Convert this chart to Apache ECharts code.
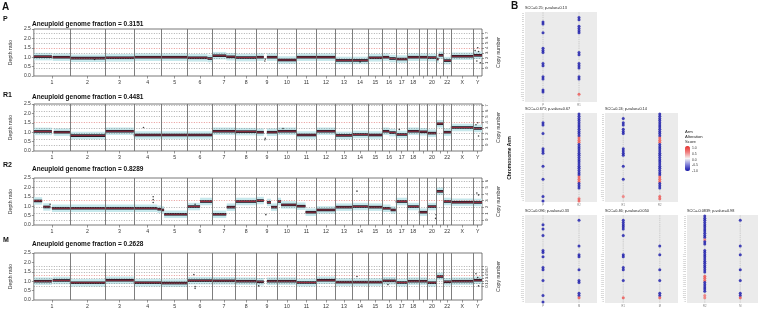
<!DOCTYPE html>
<html><head><meta charset="utf-8">
<script src="https://cdn.jsdelivr.net/npm/echarts@6/dist/echarts.min.js"></script>
<style>html,body{margin:0;padding:0;background:#fff}#c{width:760px;height:310px}</style>
</head><body><div id="c"></div>
<script>
// ---------- Panel A data ----------
const chromNames = ['1','2','3','4','5','6','7','8','9','10','11','12','13','14','15','16','17','18','19','20','21','22','X','Y'];
const chromLengths = [249.25,243.2,198.0,191.15,180.9,171.1,159.1,146.4,141.2,135.5,135.0,133.85,115.2,107.35,102.5,90.35,81.2,78.1,59.1,63.0,48.1,51.3,155.3,59.4];
const labelledChroms = ['1','2','3','4','5','6','7','8','9','10','11','12','13','14','15','16','17','18','20','22','X','Y'];
const sampleNames = ['P','R1','R2','M'];
const fractionTexts = ['0.3151','0.4481','0.8289','0.2628'];

// segments: [chromosome, start fraction, end fraction, depth ratio]
const segmentsP = [
 ['1',0,0.5,1.03],['1',0.52,1,1.0],['2',0,1,0.95],['3',0,1,0.97],['4',0,1,1.0],['5',0,1,1.0],
 ['6',0,0.8,0.97],['6',0.8,1,0.93],['7',0,0.6,1.08],['7',0.6,1,1.02],['8',0,1,0.98],
 ['9',0,0.35,1.0],['9',0.5,1,1.0],['10',0,1,0.85],['11',0,1,1.0],['12',0,1,1.0],['13',0,1,0.83],
 ['14',0,1,0.83],['15',0,1,0.97],['16',0,0.5,1.0],['16',0.5,1,0.93],['17',0,1,0.9],['18',0,1,1.0],
 ['19',0,1,1.0],['20',0,1,0.98],['21',0,0.3,0.9],['21',0.3,1,1.1],['22',0,1,0.82],['X',0,1,1.05],['Y',0,1,1.1]
];
const segmentsR1 = [
 ['1',0,0.5,1.04],['1',0.55,1,1.0],['2',0,1,0.82],['3',0,1,1.05],['4',0,1,0.85],['5',0,1,0.85],
 ['6',0,1,0.85],['7',0,1,1.05],['8',0,1,1.03],['9',0,0.35,1.0],['9',0.5,1,1.0],['10',0,1,1.05],
 ['11',0,1,0.85],['12',0,1,1.05],['13',0,1,0.83],['14',0,1,0.88],['15',0,1,0.85],['16',0,0.5,1.05],
 ['16',0.5,1,0.98],['17',0,1,0.88],['18',0,1,1.05],['19',0,1,1.02],['20',0,1,0.95],['21',0,1,1.45],
 ['22',0,1,1.0],['X',0,1,1.25],['Y',0,1,1.2]
];
const segmentsR2 = [
 ['1',0,0.23,1.28],['1',0.26,0.46,0.96],['1',0.5,1,0.89],['2',0,1,0.89],['3',0,1,0.89],['4',0,0.85,0.89],
 ['4',0.85,1,0.84],['5',0,0.1,0.8],['5',0.1,1,0.57],['6',0,0.5,0.98],['6',0.5,1,1.25],['7',0,0.6,0.57],
 ['7',0.62,1,0.95],['8',0,1,1.25],['9',0,0.35,1.3],['9',0.5,0.7,1.2],['9',0.7,1,0.95],['10',0,0.2,1.25],
 ['10',0.2,1,1.07],['11',0,0.45,1.0],['11',0.45,1,0.68],['12',0,1,0.8],['13',0,1,0.95],['14',0,1,0.98],
 ['15',0,1,0.95],['16',0,0.6,0.89],['16',0.6,1,0.8],['17',0,1,1.25],['18',0,1,0.98],['19',0,1,0.68],
 ['20',0,1,0.98],['21',0,1,1.79],['22',0,1,1.25],['X',0,1,1.21],['Y',0,1,1.2]
];
const segmentsM = [
 ['1',0,0.5,1.0],['1',0.52,1,1.04],['2',0,1,0.92],['3',0,1,1.05],['4',0,1,0.92],['5',0,1,0.9],
 ['6',0,1,1.03],['7',0,1,1.02],['8',0,1,1.0],['9',0,0.35,0.97],['9',0.5,1,1.0],['10',0,1,1.0],
 ['11',0,1,0.93],['12',0,1,1.05],['13',0,1,0.95],['14',0,1,0.95],['15',0,1,0.95],['16',0,1,1.02],
 ['17',0,1,0.93],['18',0,1,1.0],['19',0,1,1.0],['20',0,1,0.92],['21',0,1,1.25],['22',0,1,0.97],
 ['X',0,1,1.0],['Y',0,1,1.05]
];
// outlying bins: [chromosome, fraction, depth ratio]
const outliersP = [['9',0.4,0.8],['9',0.42,0.9],['2',0.7,0.88],['14',0.5,0.75],['Y',0.2,1.35],['Y',0.4,0.8],['Y',0.6,1.3],['Y',0.8,0.7],['Y',0.5,1.5]];
const outliersR1 = [['4',0.35,1.25],['9',0.4,0.6],['9',0.42,0.68],['10',0.3,1.2],['17',0.3,1.15],['Y',0.3,1.4],['Y',0.6,0.8],['Y',0.5,1.5]];
const outliersR2 = [['4',0.7,1.2],['4',0.7,1.35],['4',0.7,1.5],['1',0.45,1.1],['9',0.45,0.55],['14',0.3,1.8],['20',0.9,0.35],['20',0.95,0.55],['Y',0.4,1.7],['Y',0.6,1.6],['6',0.3,1.1]];
const outliersM = [['6',0.3,0.62],['6',0.3,0.72],['6',0.25,1.35],['14',0.3,1.25],['16',0.4,0.82],['9',0.1,0.75],['Y',0.3,1.4],['Y',0.6,0.75],['Y',0.5,1.2]];
// copy-number levels (depth ratio of CN 0,1,2,...)
const cnLevelsP = [0.43,0.70,0.96,1.23,1.50,1.76,2.03,2.29];
const cnLevelsR1 = [0.33,0.63,0.93,1.23,1.53,1.83,2.13,2.43];
const cnLevelsR2 = [0.27,0.61,0.96,1.30,1.65,2.00,2.34];
const cnLevelsM = [0.72,0.87,1.02,1.17,1.32,1.47,1.62,1.77];
const redCnIndex = [4,4,3,4];

// ---------- Panel B data ----------
const armNames = ['1p','1q','2p','2q','3p','3q','4p','4q','5p','5q','6p','6q','7p','7q','8p','8q','9p','9q','10p','10q','11p','11q','12p','12q','13q','14q','15q','16p','16q','17p','17q','18p','18q','19p','19q','20p','20q','21q','22q','Xp','Xq'];
const bTitles = ['SCC=0.25; p-value=0.13','SCC=-0.671; p-value=0.67','SCC=0.24; p-value=0.14','SCC=0.096; p-value=0.33','SCC=0.46; p-value=0.050','SCC=-0.0839; p-value=0.98'];
const bColumns = [['P','R1'],['P','R2'],['R1','R2'],['P','M'],['R1','M'],['R2','M']];
// altered arms per column: [arm, score]
const b1Left = [['3p',-1],['3q',-1],['5q',-1],['9p',-1],['9q',-1],['10p',-1],['12q',-1],['13q',-1],['17p',-1],['17q',-1],['20p',-1],['20q',-1]];
const b1Right = [['2p',-1],['2q',-1],['4p',-1],['4q',-1],['5p',-1],['5q',-1],['10p',-1],['10q',-1],['12q',-1],['13q',-1],['14q',-1],['17p',-1],['17q',-1],['21q',0.8]];
const b2Left = [['3p',-1],['3q',-1],['5q',-1],['9p',-1],['9q',-1],['10p',-1],['13q',-1],['17q',-1],['22q',-1],['Xq',-1]];
const b2Right = [['1p',-1],['1q',-1],['2p',-1],['2q',-1],['3p',-1],['3q',-1],['4p',-1],['4q',-1],['5p',-1],['5q',-1],['6p',-1],['6q',0.8],['7p',0.8],['7q',0.8],['8p',-1],['8q',-1],['9p',-1],['9q',-1],['10p',-1],['10q',-1],['11p',-1],['11q',-1],['12p',-1],['12q',-1],['13q',-1],['14q',-1],['15q',-1],['16p',-1],['16q',-1],['17p',0.8],['17q',0.8],['18p',0.8],['18q',-1],['19p',-1],['19q',-1],['Xp',0.8],['Xq',0.8]];
const b3Left = [['2p',-1],['3p',-1],['3q',-1],['4q',-1],['5p',-1],['5q',-1],['9p',-1],['9q',-1],['10p',-1],['10q',-1],['13q',-1],['17q',-1],['22q',0.6]];
const b3Right = [['1p',-1],['1q',-1],['2p',-1],['2q',-1],['3p',-1],['3q',-1],['4p',-1],['4q',-1],['5p',-1],['5q',-1],['6p',-1],['6q',0.8],['7p',0.8],['7q',0.8],['8p',-1],['8q',-1],['9p',-1],['9q',-1],['10p',-1],['10q',-1],['11p',-1],['11q',-1],['12p',-1],['12q',-1],['13q',-1],['14q',-1],['15q',-1],['16p',-1],['16q',-1],['17p',0.8],['17q',0.8],['18p',0.8],['18q',-1],['19p',-1],['19q',-1],['22q',0.8],['Xp',0.8]];
const b4Left = [['3p',-1],['4p',-1],['5q',-1],['9p',-1],['9q',-1],['10q',-1],['13q',-1],['14q',-1],['17q',-1],['21q',-1],['Xq',-1]];
const b4Right = [['2p',-1],['8p',-1],['10p',-1],['10q',-1],['14q',-1],['17q',-1],['18p',-1],['20q',-1],['21q',-1],['22q',0.8]];
const b5Left = [['2p',-1],['2q',-1],['3p',-1],['3q',-1],['4p',-1],['5q',-1],['10p',-1],['10q',-1],['13q',-1],['14q',-1],['17q',-1],['22q',0.8]];
const b5Right = [['8p',-1],['10p',-1],['14q',-1],['17q',-1],['20q',-1],['21q',-1],['22q',0.8]];
const b6Left = [['1p',-1],['1q',-1],['2p',-1],['2q',-1],['3p',-1],['3q',-1],['4p',-1],['4q',-1],['5p',-1],['5q',-1],['6p',-1],['6q',0.6],['7p',-1],['7q',-1],['9p',-1],['9q',-1],['10p',-1],['10q',-1],['11p',-1],['11q',-1],['12p',-1],['12q',-1],['13q',-1],['14q',-1],['15q',-1],['16q',0.8],['17p',0.8],['17q',0.8],['18p',-1],['18q',-1],['19p',-1],['19q',-1],['20p',-1],['21q',0.6],['22q',0.6]];
const b6Right = [['2p',-1],['8p',-1],['10p',-1],['14q',-1],['17q',-1],['20q',-1],['21q',-1],['22q',0.8]];
const legendTicks = ['1.0','0.5','0.0','-0.5','-1.0'];

// ---------- build ----------
const chromStart = {};
let acc = 0;
chromNames.forEach((c, i) => { chromStart[c] = acc; acc += chromLengths[i]; });
const genomeLen = acc;
const chromLen = {}; chromNames.forEach((c, i) => chromLen[c] = chromLengths[i]);
const boundaries = chromNames.slice(1).map(c => chromStart[c]);
const centers = chromNames.map(c => chromStart[c] + chromLen[c] / 2);
const labelCenters = labelledChroms.map(c => chromStart[c] + chromLen[c] / 2);
function nameAt(v) { let best = 0, d = 1e9; centers.forEach((c, i) => { if (Math.abs(c - v) < d) { d = Math.abs(c - v); best = i; } }); return chromNames[best]; }
const gpos = (c, f) => chromStart[c] + f * chromLen[c];

const allSegments = [segmentsP, segmentsR1, segmentsR2, segmentsM];
const allOutliers = [outliersP, outliersR1, outliersR2, outliersM];
const allCn = [cnLevelsP, cnLevelsR1, cnLevelsR2, cnLevelsM];
const aTops = [29, 104, 178, 253];
const aH = 47;
const FONT = 'Liberation Sans';

const grid = [], xAxis = [], yAxis = [], series = [], graphic = [];

sampleNames.forEach((s, i) => {
  grid.push({ left: 30, top: aTops[i], width: 452, height: aH, show: true, borderColor: '#555', borderWidth: 0.8, backgroundColor: 'transparent' });
  xAxis.push({ type: 'value', gridIndex: i, min: 0, max: genomeLen, splitLine: { show: false },
    axisLine: { show: false },
    axisTick: { show: true, customValues: centers, length: 2.5, lineStyle: { color: '#555', width: 0.6 } },
    axisLabel: { customValues: labelCenters, formatter: v => nameAt(v), fontSize: 5.2, color: '#333', margin: 4, fontFamily: FONT } });
  const cn = allCn[i];
  yAxis.push({ type: 'value', gridIndex: i, min: 0, max: 2.5, interval: 0.5, position: 'left',
    name: 'Depth ratio', nameLocation: 'middle', nameGap: 14, nameTextStyle: { fontSize: 5.2, color: '#333', fontFamily: FONT },
    axisLine: { show: false }, splitLine: { show: false },
    axisTick: { show: true, length: 2, lineStyle: { color: '#555', width: 0.6 } },
    axisLabel: { fontSize: 5, color: '#333', margin: 3, formatter: v => v.toFixed(1), fontFamily: FONT } });
  yAxis.push({ type: 'value', gridIndex: i, min: 0, max: 2.5, position: 'right',
    name: 'Copy number', nameLocation: 'middle', nameGap: 13, nameRotate: 90, nameTextStyle: { fontSize: 5.2, color: '#333', fontFamily: FONT },
    axisLine: { show: false }, splitLine: { show: false },
    axisTick: { show: true, customValues: cn, length: 2, lineStyle: { color: '#555', width: 0.6 } },
    axisLabel: { customValues: cn, rotate: 90, fontSize: 4.2, color: '#333', margin: 2.5, fontFamily: FONT,
      formatter: v => { let b = 0, d = 1e9; cn.forEach((c, k) => { if (Math.abs(c - v) < d) { d = Math.abs(c - v); b = k; } }); return String(b); } } });
  const segData = allSegments[i].map(g => [gpos(g[0], g[1]), gpos(g[0], g[2]), g[3]]);
  series.push({ type: 'custom', xAxisIndex: i, yAxisIndex: 2 * i, z: 1, silent: true, data: segData,
    renderItem: (p, api) => {
      const a = api.coord([api.value(0), api.value(2) + 0.2]);
      const b = api.coord([api.value(1), api.value(2) - 0.2]);
      return { type: 'rect', shape: { x: a[0], y: a[1], width: b[0] - a[0], height: b[1] - a[1] }, style: { fill: '#c6e8ec' } };
    } });
  const red = redCnIndex[i];
  series.push({ type: 'scatter', xAxisIndex: i, yAxisIndex: 2 * i, z: 2, data: [], silent: true,
    markLine: { silent: true, symbol: 'none', animation: false, label: { show: false },
      data: cn.map((v, k) => ({ yAxis: v, lineStyle: { color: k === red ? '#d9534f' : '#777', width: 0.6, type: [1, 1.5] } }))
        .concat(boundaries.map(b => ({ xAxis: b, lineStyle: { color: '#6f6f6f', width: 0.9, type: 'solid' } }))) } });
  series.push({ type: 'custom', xAxisIndex: i, yAxisIndex: 2 * i, z: 3, silent: true, data: segData,
    renderItem: (p, api) => {
      const a = api.coord([api.value(0), api.value(2)]);
      const b = api.coord([api.value(1), api.value(2)]);
      return { type: 'group', children: [
        { type: 'line', shape: { x1: a[0], y1: a[1], x2: b[0], y2: b[1] }, style: { stroke: '#1e1a26', lineWidth: 2.6 } },
        { type: 'line', shape: { x1: a[0], y1: a[1], x2: b[0], y2: b[1] }, style: { stroke: '#c8384a', lineWidth: 0.7 } } ] };
    } });
  series.push({ type: 'scatter', xAxisIndex: i, yAxisIndex: 2 * i, z: 4, silent: true, symbolSize: 1.6,
    itemStyle: { color: '#111' }, data: allOutliers[i].map(o => [gpos(o[0], o[1]), o[2]]) });
  const ly = [19, 95, 165, 240][i];
  graphic.push({ type: 'text', x: 3, y: ly, style: { text: s, font: 'bold 7px ' + FONT, fill: '#111', textVerticalAlign: 'middle' } });
  graphic.push({ type: 'text', x: 32, y: [24, 97, 169.5, 244.5][i], style: { text: 'Aneuploid genome fraction = ' + fractionTexts[i], font: 'bold 6.5px ' + FONT, fill: '#111', textVerticalAlign: 'middle' } });
});
graphic.push({ type: 'text', x: 2, y: 7, style: { text: 'A', font: 'bold 10px ' + FONT, fill: '#111', textVerticalAlign: 'middle' } });
graphic.push({ type: 'text', x: 511, y: 6, style: { text: 'B', font: 'bold 10px ' + FONT, fill: '#111', textVerticalAlign: 'middle' } });

// Panel B
const bBoxes = [[525, 12, 72, 90], [525, 113, 72, 89], [605, 113, 73, 89], [525, 215, 72, 88], [605, 215, 73, 88], [687, 215, 71, 88]];
const bLeft = [b1Left, b2Left, b3Left, b4Left, b5Left, b6Left];
const bRight = [b1Right, b2Right, b3Right, b4Right, b5Right, b6Right];
const alteredSeries = [];
bBoxes.forEach((bx, k) => {
  const gi = 4 + k;
  grid.push({ left: bx[0], top: bx[1], width: bx[2], height: bx[3], show: true, backgroundColor: '#ebebeb', borderWidth: 0 });
  xAxis.push({ type: 'category', gridIndex: gi, data: bColumns[k], axisLine: { show: false }, axisTick: { show: false },
    splitLine: { show: false }, axisLabel: { fontSize: 2.6, color: '#777', margin: 1.5, fontFamily: FONT } });
  yAxis.push({ type: 'category', gridIndex: gi, data: armNames, inverse: true, axisLine: { show: false }, axisTick: { show: false },
    splitLine: { show: false }, axisLabel: { fontSize: 1.9, color: '#aaa', margin: 1, interval: 0, fontFamily: FONT } });
  const cols = bColumns[k];
  const lists = [bLeft[k], bRight[k]];
  const zero = [], alt = [];
  cols.forEach((c, ci) => {
    const m = {}; lists[ci].forEach(a => m[a[0]] = a[1]);
    armNames.forEach(a => { if (m[a] === undefined) zero.push([c, a, 0]); else alt.push([c, a, m[a]]); });
  });
  series.push({ type: 'scatter', xAxisIndex: gi, yAxisIndex: 8 + k, silent: true, symbolSize: 1.5, itemStyle: { color: '#cbcbcb' }, data: zero, z: 2 });
  alteredSeries.push(series.length);
  series.push({ type: 'scatter', xAxisIndex: gi, yAxisIndex: 8 + k, silent: true, symbolSize: 3, data: alt, z: 3 });
  graphic.push({ type: 'text', x: bx[0], y: bx[1] - 4.5, style: { text: bTitles[k], font: '3.8px ' + FONT, fill: '#222', textVerticalAlign: 'middle' } });
});
graphic.push({ type: 'text', x: 510, y: 158, rotation: Math.PI / 2, style: { text: 'Chromosome Arm', font: 'bold 5px ' + FONT, fill: '#111', textAlign: 'center', textVerticalAlign: 'middle' } });
graphic.push({ type: 'text', x: 685, y: 137, style: { text: 'Arm\nAlteration\nScore', font: '4.2px ' + FONT, fill: '#222', textVerticalAlign: 'middle', lineHeight: 5 } });
legendTicks.forEach((t, k) => graphic.push({ type: 'text', x: 692, y: 148 + k * 5.8, style: { text: t, font: '3.4px ' + FONT, fill: '#333', textVerticalAlign: 'middle' } }));

const option = {
  animation: false,
  backgroundColor: '#fff',
  grid, xAxis, yAxis, series, graphic,
  visualMap: { type: 'continuous', min: -1, max: 1, dimension: 2, seriesIndex: alteredSeries, calculable: false,
    left: 685, top: 146, itemWidth: 5, itemHeight: 25, padding: 0, text: ['', ''], showLabel: false,
    inRange: { color: ['#1414a8', '#8080d8', '#f4f4f4', '#f08080', '#e8302c'] } }
};
const chart = echarts.init(document.getElementById('c'), null, { renderer: 'canvas' });
chart.setOption(option);
</script></body></html>
